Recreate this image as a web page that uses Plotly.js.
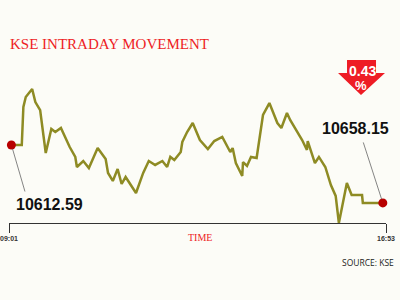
<!DOCTYPE html>
<html>
<head>
<meta charset="utf-8">
<script src="https://cdn.plot.ly/plotly-3.0.1.min.js"></script>
<style>html,body{margin:0;padding:0;background:#fcfcf7;}#chart{width:400px;height:300px;}</style>
</head>
<body>
<div id="chart"></div>
<script>
// minutes after 09:01
var minutes = [3,16,18,21,29,33,39,46,53,58,65,70,76,83,85,93,100,111,121,124,130,136,141,146,151,159,168,175,183,192,198,202,207,215,217,223,230,239,249,257,267,277,280,284,292,293,298,303,310,318,326,336,341,348,352,367,373,374,383,388,396,403,409,413,423,429,442,443,468];
var index = [10612.59,10612.59,10642.5,10650.4,10656.7,10646.4,10640.1,10606.3,10625.2,10622.8,10626.0,10618.9,10611.0,10603.2,10595.3,10600.0,10594.5,10610.2,10601.6,10590.6,10584.3,10593.7,10581.9,10587.4,10582.7,10574.8,10590.6,10600.0,10596.9,10600.0,10595.3,10603.2,10600.8,10607.1,10615.0,10622.8,10629.9,10616.5,10609.4,10615.7,10618.9,10607.1,10610.2,10598.4,10588.2,10599.2,10596.1,10603.2,10602.4,10636.2,10645.6,10629.9,10626.0,10637.8,10632.3,10616.5,10608.7,10615.7,10598.4,10603.2,10595.3,10581.1,10572.5,10551.2,10582.7,10573.2,10573.2,10567.0,10567.0];
var tickValues = [0,472];
var tickLabels = ["09:01","16:53"];
var startLabel = "10612.59";
var endLabel = "10658.15";
var changeLabel = "0.43";

var n = minutes.length;
var red = "#ee1c25";

var traces = [
  {x: minutes, y: index, type: "scatter", mode: "lines",
   line: {color: "#8e8b24", width: 2.5}, hoverinfo: "skip", cliponaxis: false},
  {x: [minutes[0], minutes[n-1]], y: [index[0], index[n-1]], type: "scatter", mode: "markers",
   marker: {color: "#b80000", size: 9}, hoverinfo: "skip", cliponaxis: false}
];

function txt(px, py, text, font, xa) {
  return {x: (px-9)/377, y: (223-py)/163, xref: "paper", yref: "paper", text: text,
          showarrow: false, xanchor: xa || "center", yanchor: "middle", font: font};
}

var layout = {
  width: 400, height: 300,
  margin: {l: 9, r: 14, t: 60, b: 77},
  paper_bgcolor: "#fcfcf7", plot_bgcolor: "#fcfcf7",
  showlegend: false,
  title: {text: "KSE INTRADAY MOVEMENT", x: 10/400, xanchor: "left", xref: "container",
          y: 1 - 44/300, yanchor: "middle", yref: "container",
          font: {family: "Liberation Serif", size: 15, color: red}},
  xaxis: {range: [0, 472], showgrid: false, zeroline: false, showline: true,
          linecolor: "#333", linewidth: 1, ticks: "outside", ticklen: 9, tickwidth: 1,
          tickcolor: "#333", tickvals: tickValues, ticktext: tickLabels,
          tickfont: {family: "Liberation Sans", size: 7, color: "#333", weight: "bold"}},
  yaxis: {range: [10551.2, 10679.5], visible: false},
  shapes: [
    {type: "path", xref: "paper", yref: "paper",
     path: "M0.8966,1 L0.9735,1 L0.9735,0.9202 L0.9973,0.9202 L0.9337,0.7853 L0.8727,0.9202 L0.8966,0.9202 Z",
     fillcolor: red, line: {width: 0}}
  ],
  annotations: [
    {x: minutes[0], y: index[0], xref: "x", yref: "y", text: "", showarrow: true,
     arrowhead: 0, arrowwidth: 0.8, arrowcolor: "#666", ax: 14, ay: 48, standoff: 4},
    {x: minutes[n-1], y: index[n-1], xref: "x", yref: "y", text: "", showarrow: true,
     arrowhead: 0, arrowwidth: 0.8, arrowcolor: "#666", ax: -20, ay: -62, standoff: 4},
    txt(49, 204, "<b>" + startLabel + "</b>", {family: "Liberation Sans", size: 16, color: "#111"}),
    txt(355, 128, "<b>" + endLabel + "</b>", {family: "Liberation Sans", size: 16, color: "#111"}),
    txt(362, 71, "<b>" + changeLabel + "</b>", {family: "Liberation Sans", size: 14, color: "#fff"}),
    txt(361, 85, "<b>%</b>", {family: "Liberation Sans", size: 13, color: "#fff"}),
    txt(200, 237, "TIME", {family: "Liberation Serif", size: 10, color: red}),
    txt(396, 262, "SOURCE: KSE", {family: "Open Sans", size: 8.5, color: "#222"}, "right")
  ]
};

Plotly.newPlot("chart", traces, layout, {staticPlot: true, displayModeBar: false});
</script>
</body>
</html>
